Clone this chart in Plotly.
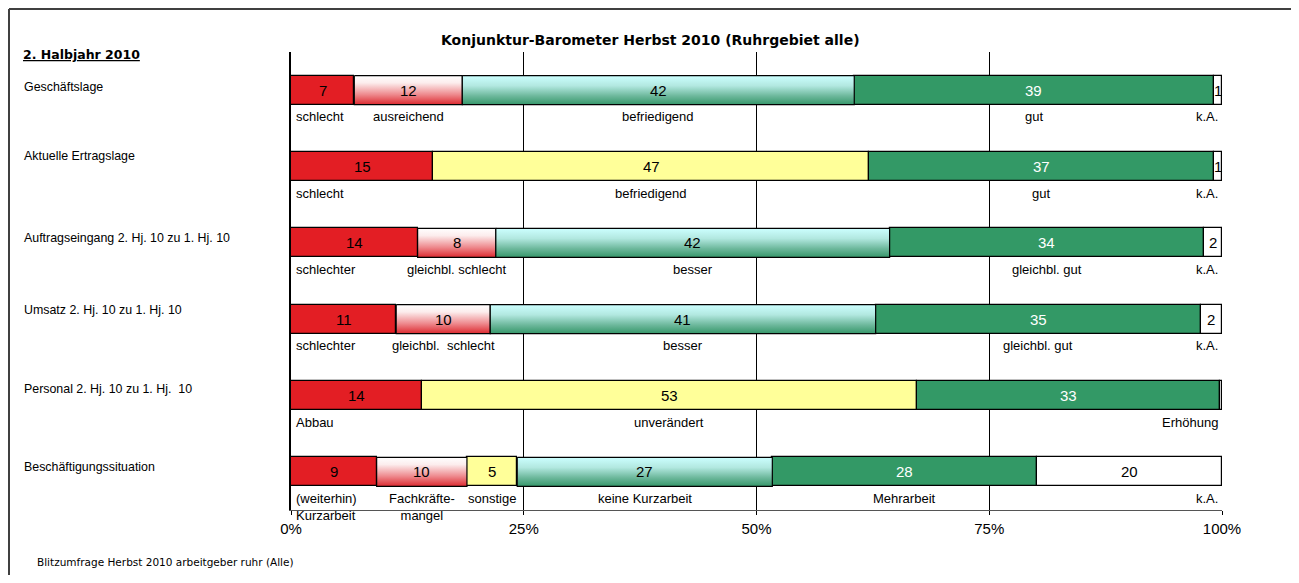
import plotly.graph_objects as go

# ---------------- data ----------------
row_labels = [
    "Geschäftslage",
    "Aktuelle Ertragslage",
    "Auftragseingang 2. Hj. 10 zu 1. Hj. 10",
    "Umsatz 2. Hj. 10 zu 1. Hj. 10",
    "Personal 2. Hj. 10 zu 1. Hj.  10",
    "Beschäftigungssituation",
]

geschaeftslage = [6.8, 11.6, 42.1, 38.6, 0.9]
ertragslage = [15.3, 46.8, 37.0, 0.9]
auftragseingang = [13.6, 8.4, 42.3, 33.8, 1.9]
umsatz = [11.3, 10.1, 41.4, 34.9, 2.3]
personal = [14.1, 53.1, 32.6, 0.2]
beschaeftigung = [9.2, 9.7, 5.4, 27.4, 28.4, 19.9]

labels_geschaeftslage = ["schlecht", "ausreichend", "befriedigend", "gut", "k.A."]
labels_ertragslage = ["schlecht", "befriedigend", "gut", "k.A."]
labels_auftragseingang = ["schlechter", "gleichbl. schlecht", "besser", "gleichbl. gut", "k.A."]
labels_umsatz = ["schlechter", "gleichbl.  schlecht", "besser", "gleichbl. gut", "k.A."]
labels_personal = ["Abbau", "unverändert", "Erhöhung", ""]
labels_beschaeftigung = ["(weiterhin)<br>Kurzarbeit", "Fachkräfte-<br>mangel", "sonstige",
                         "keine Kurzarbeit", "Mehrarbeit", "k.A."]

tick_values = [0, 25, 50, 75, 100]
tick_labels = ["0%", "25%", "50%", "75%", "100%"]

title_text = "Konjunktur-Barometer Herbst 2010 (Ruhrgebiet alle)"
period_text = "2. Halbjahr 2010"
footer_text = "Blitzumfrage Herbst 2010 arbeitgeber ruhr (Alle)"

values = [geschaeftslage, ertragslage, auftragseingang, umsatz, personal, beschaeftigung]
segment_labels = [labels_geschaeftslage, labels_ertragslage, labels_auftragseingang,
                  labels_umsatz, labels_personal, labels_beschaeftigung]

# ---------------- styles ----------------
row_fills = [
    ["red", "pink", "cyan", "green", "white"],
    ["red", "yellow", "green", "white"],
    ["red", "pink", "cyan", "green", "white"],
    ["red", "pink", "cyan", "green", "white"],
    ["red", "yellow", "green", "white"],
    ["red", "pink", "yellow", "cyan", "green", "white"],
]
COLORS = {"red": "#E31E24", "green": "#339966", "yellow": "#FFFF99", "white": "#FFFFFF"}
# colorscale 0 = bottom of the bar, 1 = top
GRADIENTS = {
    "pink": [[0, "#DC2A30"], [0.35, "#EE8A8E"], [0.75, "#FCEDED"], [1, "#FFFFFF"]],
    "cyan": [[0, "#36976A"], [0.3, "#6DB89C"], [0.65, "#B2E8E0"], [1, "#CCFFFF"]],
}
FONT = "Liberation Sans, Arial, sans-serif"
WIDE = "DejaVu Sans, Verdana, sans-serif"

W, H = 1291, 567
L, R, T, B = 283, 77, 44, 65
PW, PH = W - L - R, H - T - B


def px(x):  # page pixel -> paper x
    return (x - 8 - L) / PW


def py(y):  # page pixel -> paper y
    return 1 - (y - 8 - T) / PH


BAR_W = 0.38
LABEL_OFF = BAR_W / 2 + 0.035

fig = go.Figure()
annotations = []

for i, (vals, fills, labs) in enumerate(zip(values, row_fills, segment_labels)):
    cum = 0.0
    last_lab = max(j for j, l in enumerate(labs) if l)
    for j, (v, f, lab) in enumerate(zip(vals, fills, labs)):
        x0, x1 = cum, cum + v
        if f in GRADIENTS:
            y0, y1 = i - BAR_W / 2, i + BAR_W / 2
            fig.add_trace(go.Scatter(
                x=[x0, x1, x1, x0, x0], y=[y0, y0, y1, y1, y0],
                mode="lines", fill="toself",
                fillgradient=dict(type="vertical", colorscale=GRADIENTS[f]),
                line=dict(color="black", width=1.2),
                showlegend=False, hoverinfo="skip"))
        else:
            fig.add_trace(go.Bar(
                x=[v], y=[i], base=[x0], orientation="h", width=BAR_W,
                marker=dict(color=COLORS[f], line=dict(color="black", width=1.2)),
                showlegend=False, hoverinfo="skip"))
        if v >= 0.5:
            annotations.append(dict(
                x=(x0 + x1) / 2, y=i, xref="x", yref="y", text=str(round(v)),
                showarrow=False,
                font=dict(family=FONT, size=15, color="white" if f == "green" else "black")))
        if lab:
            if j == 0:
                ax, xa = x0 + 0.3, "left"
            elif j == last_lab:
                ax, xa = 99.8, "right"
            else:
                ax, xa = (x0 + x1) / 2, "center"
            annotations.append(dict(
                x=ax, y=i + LABEL_OFF, xref="x", yref="y", text=lab, showarrow=False,
                xanchor=xa, yanchor="top", align=xa,
                font=dict(family=FONT, size=13, color="black")))
        cum = x1

# row labels on the left
row_label_y = [87, 156, 238, 310, 389, 467]
for lab, yy in zip(row_labels, row_label_y):
    annotations.append(dict(x=px(22), y=py(yy), xref="paper", yref="paper", text=lab,
                            showarrow=False, xanchor="left", yanchor="middle",
                            font=dict(family=FONT, size=12.4, color="black")))

annotations.append(dict(x=px(21), y=py(54), xref="paper", yref="paper",
                        text="<b><u>" + period_text + "</u></b>", showarrow=False,
                        xanchor="left", yanchor="middle",
                        font=dict(family=WIDE, size=12.5, color="black")))
annotations.append(dict(x=px(650), y=py(40), xref="paper", yref="paper",
                        text="<b>" + title_text + "</b>", showarrow=False,
                        xanchor="center", yanchor="middle",
                        font=dict(family=WIDE, size=14, color="black")))
annotations.append(dict(x=px(35), y=py(562), xref="paper", yref="paper",
                        text=footer_text, showarrow=False,
                        xanchor="left", yanchor="middle",
                        font=dict(family=WIDE, size=10.5, color="black")))

# page border
border = dict(color="#404040", width=2)
shapes = [
    dict(type="line", xref="paper", yref="paper", x0=px(9), x1=px(1293), y0=py(9), y1=py(9), line=border),
    dict(type="line", xref="paper", yref="paper", x0=px(9), x1=px(9), y0=py(9), y1=py(600), line=border),
    dict(type="line", xref="paper", yref="paper", x0=px(1293), x1=px(1293), y0=py(9), y1=py(600), line=border),
]

fig.update_layout(
    width=W, height=H,
    margin=dict(l=L, r=R, t=T, b=B, pad=0),
    paper_bgcolor="white", plot_bgcolor="white",
    barmode="overlay", bargap=0,
    font=dict(family=FONT, color="black"),
    annotations=annotations, shapes=shapes,
    xaxis=dict(range=[0, 100], tickvals=tick_values, ticktext=tick_labels,
               ticks="outside", ticklen=4, tickcolor="black", tickwidth=1,
               showgrid=True, gridcolor="black", gridwidth=1, zeroline=False,
               showline=True, linecolor="#555555", linewidth=1,
               tickfont=dict(family=FONT, size=15, color="black"),
               ticklabelstandoff=1, fixedrange=True),
    yaxis=dict(range=[5.5, -0.5], showticklabels=False, showgrid=False, zeroline=False,
               showline=True, linecolor="black", linewidth=2, ticks="", fixedrange=True),
)

fig.write_html("out.html")
